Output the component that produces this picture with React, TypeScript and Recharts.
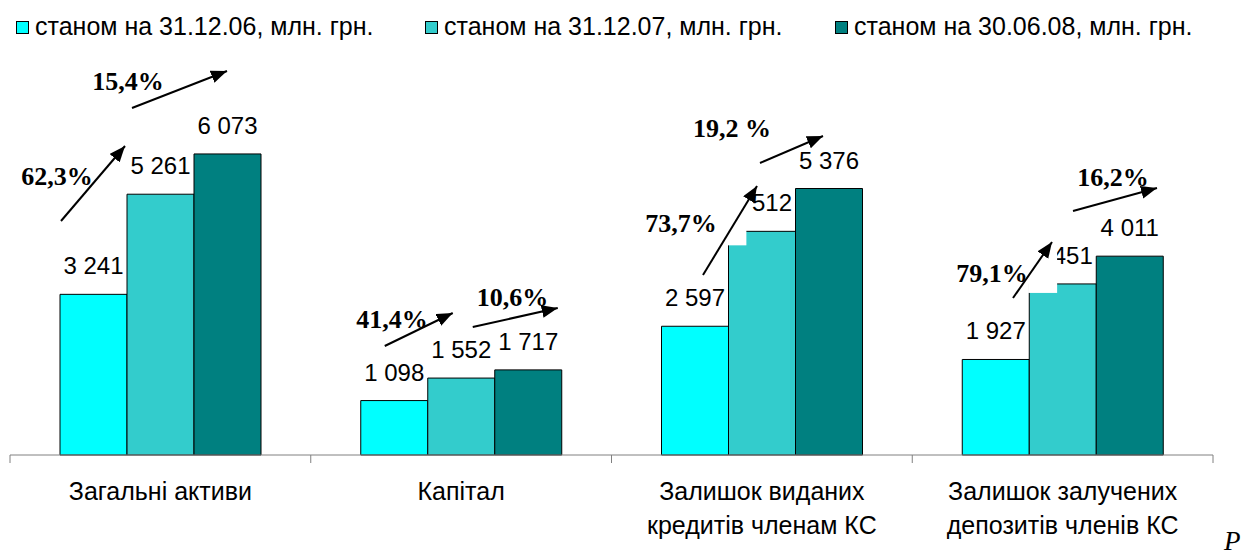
import React from "react";
import { BarChart, Bar, XAxis, YAxis, LabelList } from "recharts";

// ---- data ----
const categories = [
  "Загальні активи",
  "Капітал",
  "Залишок виданих кредитів членам КС",
  "Залишок залучених депозитів членів КС",
];
const categoryLines = [
  ["Загальні активи"],
  ["Капітал"],
  ["Залишок виданих", "кредитів членам КС"],
  ["Залишок залучених", "депозитів членів КС"],
];
const seriesNames = [
  "станом на 31.12.06, млн. грн.",
  "станом на 31.12.07, млн. грн.",
  "станом на 30.06.08, млн. грн.",
];
const values2006 = [3241, 1098, 2597, 1927];
const values2007 = [5261, 1552, 4512, 3451];
const values2008 = [6073, 1717, 5376, 4011];
const growthFirst = ["62,3%", "41,4%", "73,7%", "79,1%"];
const growthSecond = ["15,4%", "10,6%", "19,2 %", "16,2%"];
const footnote = "Р";

// ---- layout / style ----
const W = 1248;
const H = 556;
const XAXIS_H = 30;
const M = { top: 108, right: 35, left: 10, bottom: 71 };
const Y_MAX = 7000;
const BAR = 67;
const colors = ["#00FFFF", "#33CCCC", "#008080"];
const SANS = "'Liberation Sans', Arial, sans-serif";
const SERIF = "'Liberation Serif', 'Times New Roman', serif";

const plotW = W - M.left - M.right;
const plotBottom = H - M.bottom - XAXIS_H;
const plotH = plotBottom - M.top;
const band = plotW / categories.length;
const bandLeft = (i: number) => M.left + i * band;
const yOf = (v: number) => plotBottom - (v / Y_MAX) * plotH;
const barX = (i: number, s: number) =>
  bandLeft(i) + (band - 3 * BAR) / 2 + s * BAR;

// annotation geometry: x offsets from band start, heights above baseline
const arrowsFirst = [
  { x1: 51, h1: 234, x2: 115, h2: 309 },
  { x1: 74, h1: 109, x2: 142, h2: 142 },
  { x1: 91.5, h1: 180, x2: 145.5, h2: 269 },
  { x1: 100.75, h1: 157, x2: 139.75, h2: 213 },
];
const arrowsSecond = [
  { x1: 122, h1: 347, x2: 217, h2: 384 },
  { x1: 162, h1: 128, x2: 247, h2: 147 },
  { x1: 148.5, h1: 292, x2: 211.5, h2: 319 },
  { x1: 160.75, h1: 244, x2: 244.75, h2: 267 },
];
const labelFirstPos = [
  { x: 47, h: 270 },
  { x: 81.25, h: 127 },
  { x: 69.5, h: 223 },
  { x: 79.75, h: 173 },
];
const labelSecondPos = [
  { x: 118, h: 365 },
  { x: 201.75, h: 149 },
  { x: 120.5, h: 318 },
  { x: 200.75, h: 269 },
];
const covers = [
  { cat: 2, w: 18, down: 14, up: 50 },
  { cat: 3, w: 28, down: 9, up: 50 },
];
const legendX = [16, 425, 835];

const data = categories.map((name, i) => ({
  name,
  idx: i,
  v1: values2006[i],
  v2: values2007[i],
  v3: values2008[i],
}));

const fmt = (v: number) =>
  v >= 1000
    ? `${Math.floor(v / 1000)} ${String(v % 1000).padStart(3, "0")}`
    : String(v);

const ValueLabel = (props: any) => {
  const { x, y, width, value } = props;
  return (
    <text
      x={Number(x) + Number(width) / 2}
      y={Number(y) - 20}
      textAnchor="middle"
      fontFamily={SANS}
      fontSize={24}
      fill="#000"
    >
      {fmt(Number(value))}
    </text>
  );
};

const CategoryTick = (props: any) => {
  const { x, payload, index } = props;
  const i = typeof payload?.index === "number" ? payload.index : index;
  const lines = categoryLines[i] || [String(payload?.value)];
  const y0 = plotBottom;
  const left = x - band / 2;
  const right = x + band / 2;
  return (
    <g>
      <line x1={left} y1={y0} x2={left} y2={y0 + 8} stroke="#808080" strokeWidth={1} />
      {i === categories.length - 1 && (
        <line x1={right} y1={y0} x2={right} y2={y0 + 8} stroke="#808080" strokeWidth={1} />
      )}
      {lines.map((ln: string, k: number) => (
        <text
          key={k}
          x={x}
          y={y0 + 45 + k * 34}
          textAnchor="middle"
          fontFamily={SANS}
          fontSize={25}
          fill="#000"
        >
          {ln}
        </text>
      ))}
    </g>
  );
};

const Arrow = ({ cat, a }: { cat: number; a: any }) => (
  <line
    x1={bandLeft(cat) + a.x1}
    y1={plotBottom - a.h1}
    x2={bandLeft(cat) + a.x2}
    y2={plotBottom - a.h2}
    stroke="#000"
    strokeWidth={2}
    markerEnd="url(#arrowHead)"
  />
);

const Pct = ({ cat, p, text }: { cat: number; p: any; text: string }) => (
  <text
    x={bandLeft(cat) + p.x}
    y={plotBottom - p.h}
    textAnchor="middle"
    fontFamily={SERIF}
    fontWeight="bold"
    fontSize={26}
    fill="#000"
  >
    {text}
  </text>
);

export default function App() {
  return (
    <div style={{ position: "absolute", left: 0, top: 0, width: W, height: H, background: "#fff" }}>
      <BarChart
        width={W}
        height={H}
        data={data}
        margin={M}
        barGap={0}
        barSize={BAR}
      >
        <XAxis
          dataKey="name"
          height={XAXIS_H}
          axisLine={{ stroke: "#808080", strokeWidth: 1 }}
          tickLine={false}
          tickSize={0}
          tickMargin={0}
          interval={0}
          tick={<CategoryTick />}
        />
        <YAxis hide domain={[0, Y_MAX]} type="number" />
        <Bar dataKey="v1" name={seriesNames[0]} fill={colors[0]} stroke="#000" strokeWidth={1} isAnimationActive={false}>
          <LabelList dataKey="v1" content={<ValueLabel />} />
        </Bar>
        <Bar dataKey="v2" name={seriesNames[1]} fill={colors[1]} stroke="#000" strokeWidth={1} isAnimationActive={false}>
          <LabelList dataKey="v2" content={<ValueLabel />} />
        </Bar>
        <Bar dataKey="v3" name={seriesNames[2]} fill={colors[2]} stroke="#000" strokeWidth={1} isAnimationActive={false}>
          <LabelList dataKey="v3" content={<ValueLabel />} />
        </Bar>
      </BarChart>
      <svg
        width={W}
        height={H}
        style={{ position: "absolute", left: 0, top: 0, pointerEvents: "none" }}
      >
        <defs>
          <marker
            id="arrowHead"
            markerUnits="userSpaceOnUse"
            markerWidth={18}
            markerHeight={14}
            refX={16}
            refY={6.5}
            orient="auto"
          >
            <path d="M0,0 L16,6.5 L0,13 z" fill="#000" />
          </marker>
        </defs>
        {/* legend */}
        {seriesNames.map((n, s) => (
          <g key={n}>
            <rect x={legendX[s] + 0.5} y={21.5} width={12} height={12} fill={colors[s]} stroke="#000" strokeWidth={1} />
            <text x={legendX[s] + 19} y={35} fontFamily={SANS} fontSize={25} fill="#000">
              {n}
            </text>
          </g>
        ))}
        {/* white boxes partly covering bars/labels */}
        {covers.map((c) => {
          const x = barX(c.cat, 1);
          const top = yOf(values2007[c.cat]);
          return (
            <rect key={c.cat} x={x - 1} y={top - c.up} width={c.w + 1} height={c.up + c.down} fill="#fff" />
          );
        })}
        {categories.map((_, i) => (
          <g key={i}>
            <Arrow cat={i} a={arrowsFirst[i]} />
            <Arrow cat={i} a={arrowsSecond[i]} />
            <Pct cat={i} p={labelFirstPos[i]} text={growthFirst[i]} />
            <Pct cat={i} p={labelSecondPos[i]} text={growthSecond[i]} />
          </g>
        ))}
        <text x={1224} y={550} fontFamily={SERIF} fontStyle="italic" fontSize={27} fill="#000">
          {footnote}
        </text>
      </svg>
    </div>
  );
}
